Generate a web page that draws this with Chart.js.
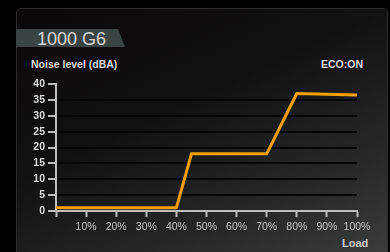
<!DOCTYPE html>
<html>
<head>
<meta charset="utf-8">
<script src="https://cdn.jsdelivr.net/npm/chart.js@4"></script>
<style>
  html, body { margin: 0; padding: 0; background: #000; }
  #wrap { position: relative; width: 390px; height: 252px; overflow: hidden; background: #000; font-family: "Liberation Sans", Arial, sans-serif; }
  #panel { position: absolute; left: 16px; top: 8px; width: 370px; height: 260px; border-radius: 5px;
    border: 1px solid #2c2c2c;
    background: linear-gradient(155deg, #0a0808 0%, #121111 40%, #262828 72%, #3e4040 100%); }
  #tab { position: absolute; left: 16px; top: 29px; width: 109px; height: 18px; background: #3a4443;
    clip-path: polygon(0 0, 102px 0, 109px 18px, 0 18px); }
  .txt { position: absolute; white-space: nowrap; }
  #title { left: 37px; top: 29px; font-size: 18px; line-height: 20px; color: #d6d6d6; }
  #ylab { left: 31px; top: 58px; font-size: 10.5px; font-weight: bold; color: #dadada; line-height: 12px; }
  #eco { left: 321px; top: 58px; font-size: 10.5px; font-weight: bold; color: #dadada; line-height: 12px; }
  #xlab { left: 342px; top: 237px; font-size: 11px; font-weight: bold; color: #d0d0d0; line-height: 12px; }
  canvas { position: absolute; left: 0; top: 0; }
</style>
</head>
<body>
<div id="wrap">
  <div id="panel"></div>
  <div id="tab"></div>
  <div class="txt" id="title">1000 G6</div>
  <div class="txt" id="ylab">Noise level (dBA)</div>
  <div class="txt" id="eco">ECO:ON</div>
  <div class="txt" id="xlab">Load</div>
  <canvas id="myChart" width="390" height="252"></canvas>
</div>
<script>
// Lastpunkte (%) und Geräuschpegel (dBA)
const loadPoints = [0, 40, 45, 70, 80, 90, 100];
const noiseValues = [1, 1, 18, 18, 37, 36.8, 36.5];
const yTicks = [0, 5, 10, 15, 20, 25, 30, 35, 40];
const xTicks = [0, 10, 20, 30, 40, 50, 60, 70, 80, 90, 100];

const axisColor = '#bdbdbd';

const ctx = document.getElementById('myChart').getContext('2d');
new Chart(ctx, {
    type: 'line',
    data: {
        datasets: [{
            data: loadPoints.map((x, i) => ({ x: x, y: noiseValues[i] })),
            borderColor: '#f5a000',
            borderWidth: 3,
            borderJoinStyle: 'round',
            borderCapStyle: 'round',
            pointRadius: 0,
            tension: 0
        }]
    },
    options: {
        responsive: false,
        animation: false,
        layout: { padding: { left: 0, top: 84, right: 33, bottom: 0 } },
        plugins: { legend: { display: false }, tooltip: { enabled: false } },
        scales: {
            x: {
                type: 'linear',
                min: 0,
                max: 100,
                afterBuildTicks: scale => { scale.ticks = xTicks.map(v => ({ value: v })); },
                afterFit: scale => { scale.height = 41; },
                ticks: {
                    color: '#c6c6c6',
                    font: { family: 'Liberation Sans', size: 10.5 },
                    padding: 4,
                    maxRotation: 0,
                    autoSkip: false,
                    callback: v => v === 0 ? '' : v + '%'
                },
                grid: {
                    drawOnChartArea: false,
                    tickLength: 6,
                    tickColor: axisColor,
                    tickWidth: 2
                },
                border: { color: axisColor, width: 2 }
            },
            y: {
                min: 0,
                max: 40,
                afterBuildTicks: scale => { scale.ticks = yTicks.map(v => ({ value: v })); },
                afterFit: scale => { scale.width = 56; },
                ticks: {
                    color: '#dadada',
                    font: { family: 'Liberation Sans', size: 10.5, weight: 'bold' },
                    padding: 3
                },
                grid: {
                    color: c => (c.tick && (c.tick.value === 0 || c.tick.value === 40)) ? 'rgba(0,0,0,0)' : '#060606',
                    lineWidth: 2,
                    tickLength: 8,
                    tickColor: axisColor,
                    tickWidth: 2
                },
                border: { color: axisColor, width: 2 }
            }
        }
    }
});
</script>
</body>
</html>
